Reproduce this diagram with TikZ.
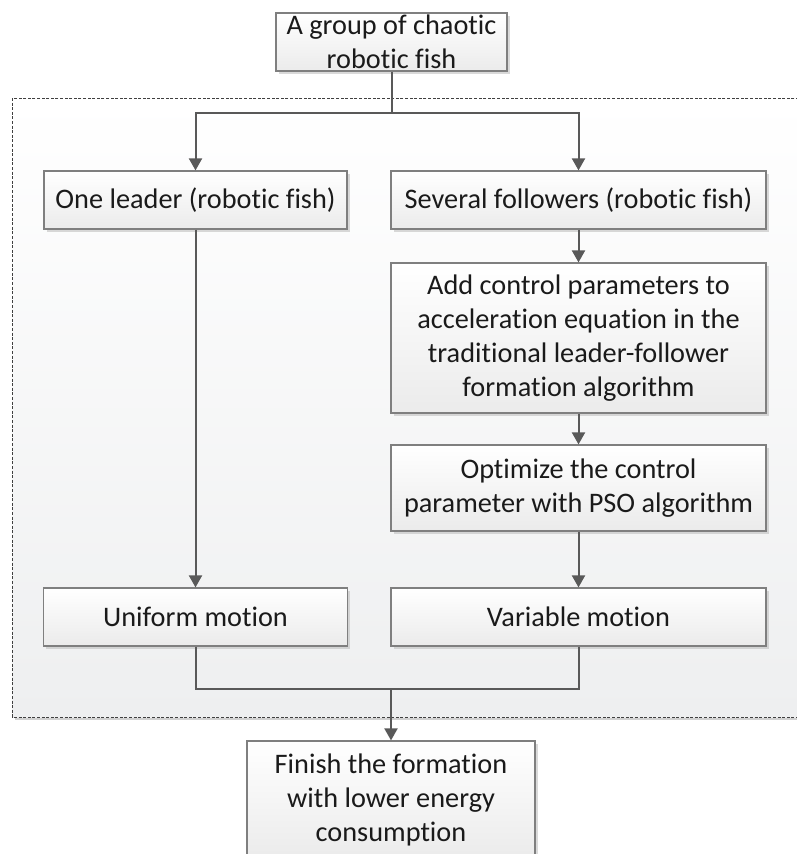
\documentclass[tikz,border=0pt]{standalone}
\usepackage{fontspec}
\setmainfont{Carlito}[Ligatures={NoCommon,NoRare,NoContextual}]
\usetikzlibrary{arrows.meta,shadows}
\definecolor{linecol}{HTML}{595959}
\definecolor{boxborder}{HTML}{7F7F7F}
\definecolor{boxbottom}{HTML}{EBEBEB}
\definecolor{regionbottom}{HTML}{EEEFF0}
\definecolor{textcol}{HTML}{1A1A1A}
\tikzset{
  box/.style={draw=boxborder, line width=1.2pt, rectangle, inner sep=0pt,
    align=center, text=textcol, font=\fontsize{28.3}{34}\selectfont,
    top color=white, bottom color=boxbottom,
    drop shadow={shadow xshift=2.5pt, shadow yshift=-2.5pt, fill=black!25, opacity=0.6}},
  conn/.style={draw=linecol, line width=2pt},
  arr/.style={conn, -{Triangle[length=12pt,width=13pt]}},
}
\begin{document}
\begin{tikzpicture}[x=1pt,y=-1pt]
\useasboundingbox (0,0) rectangle (797,854);
% dashed region
\fill[black!18] (14.5,100.5) rectangle (812,720);
\path[top color=white, bottom color=regionbottom] (12,98) rectangle (810,717);
\draw[black!75, line width=0.9pt, dash pattern=on 3pt off 1.6pt] (12,98) rectangle (810,717);
% nodes
\node[box, minimum width=231pt, minimum height=58pt] (top) at (391.5,42) {A group of chaotic\\robotic fish};
\node[box, minimum width=303pt, minimum height=58pt] (leader) at (195.5,200) {One leader (robotic fish)};
\node[box, minimum width=375pt, minimum height=58pt] (follow) at (578.5,200) {Several followers (robotic fish)};
\node[box, minimum width=375pt, minimum height=150pt] (add) at (578.5,338) {Add control parameters to\\acceleration equation in the\\traditional leader-follower\\formation algorithm};
\node[box, minimum width=375pt, minimum height=86pt] (pso) at (578.5,488) {Optimize the control\\parameter with PSO algorithm};
\node[box, minimum width=304pt, minimum height=58pt] (uniform) at (195.5,617) {Uniform motion};
\node[box, minimum width=375pt, minimum height=58pt] (variable) at (578.5,617) {Variable motion};
\node[box, minimum width=288pt, minimum height=118pt] (final) at (391,800) {Finish the formation\\with lower energy\\consumption};
% connectors
\coordinate (split) at (391.5,113);
\coordinate (merge) at (391,689);
\draw[conn] (top.south) -- (split);
\draw[arr] (split) -| (leader.north);
\draw[arr] (split) -| (follow.north);
\draw[arr] (follow.south) -- (add.north);
\draw[arr] (add.south) -- (pso.north);
\draw[arr] (pso.south) -- (variable.north);
\draw[arr] (leader.south) -- (uniform.north);
\draw[conn] (uniform.south) |- (merge);
\draw[conn] (variable.south) |- (merge);
\draw[arr] (merge) -- (final.north);
\end{tikzpicture}
\end{document}
